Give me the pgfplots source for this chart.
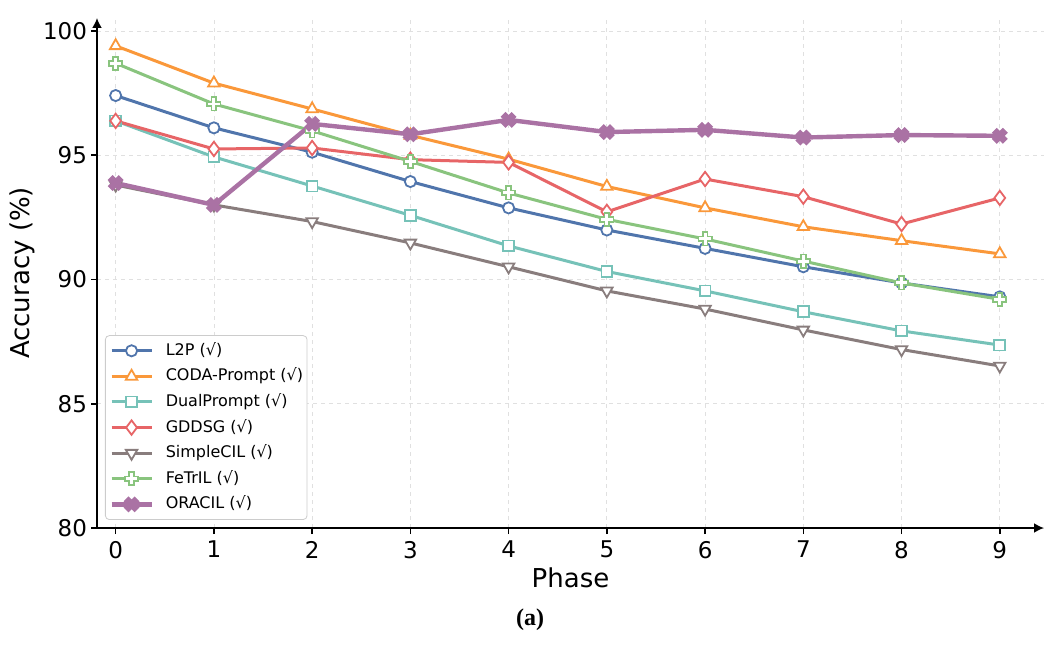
\documentclass[border=0pt]{standalone}
\usepackage{pgfplots}
\pgfplotsset{compat=1.18}
\usepackage{fontspec}
\setmainfont{DejaVu Sans}
\newfontfamily\capfont{Liberation Serif}
\usetikzlibrary{arrows.meta}

\definecolor{cL2P}{RGB}{80,117,172}
\definecolor{cCODA}{RGB}{250,152,58}
\definecolor{cDual}{RGB}{118,194,184}
\definecolor{cGDDSG}{RGB}{231,101,103}
\definecolor{cSimple}{RGB}{137,125,125}
\definecolor{cFeTrIL}{RGB}{137,196,126}
\definecolor{cORACIL}{RGB}{170,114,164}

% outlined plus marker
\pgfdeclareplotmark{hplus}{%
  \pgfpathmoveto{\pgfqpoint{-0.36\pgfplotmarksize}{\pgfplotmarksize}}%
  \pgfpathlineto{\pgfqpoint{0.36\pgfplotmarksize}{\pgfplotmarksize}}%
  \pgfpathlineto{\pgfqpoint{0.36\pgfplotmarksize}{0.36\pgfplotmarksize}}%
  \pgfpathlineto{\pgfqpoint{\pgfplotmarksize}{0.36\pgfplotmarksize}}%
  \pgfpathlineto{\pgfqpoint{\pgfplotmarksize}{-0.36\pgfplotmarksize}}%
  \pgfpathlineto{\pgfqpoint{0.36\pgfplotmarksize}{-0.36\pgfplotmarksize}}%
  \pgfpathlineto{\pgfqpoint{0.36\pgfplotmarksize}{-\pgfplotmarksize}}%
  \pgfpathlineto{\pgfqpoint{-0.36\pgfplotmarksize}{-\pgfplotmarksize}}%
  \pgfpathlineto{\pgfqpoint{-0.36\pgfplotmarksize}{-0.36\pgfplotmarksize}}%
  \pgfpathlineto{\pgfqpoint{-\pgfplotmarksize}{-0.36\pgfplotmarksize}}%
  \pgfpathlineto{\pgfqpoint{-\pgfplotmarksize}{0.36\pgfplotmarksize}}%
  \pgfpathlineto{\pgfqpoint{-0.36\pgfplotmarksize}{0.36\pgfplotmarksize}}%
  \pgfpathclose
  \pgfusepathqfillstroke}
% filled x marker
\pgfdeclareplotmark{fatx}{%
  \pgftransformrotate{45}%
  \pgfpathmoveto{\pgfqpoint{-0.4\pgfplotmarksize}{\pgfplotmarksize}}%
  \pgfpathlineto{\pgfqpoint{0.4\pgfplotmarksize}{\pgfplotmarksize}}%
  \pgfpathlineto{\pgfqpoint{0.4\pgfplotmarksize}{0.4\pgfplotmarksize}}%
  \pgfpathlineto{\pgfqpoint{\pgfplotmarksize}{0.4\pgfplotmarksize}}%
  \pgfpathlineto{\pgfqpoint{\pgfplotmarksize}{-0.4\pgfplotmarksize}}%
  \pgfpathlineto{\pgfqpoint{0.4\pgfplotmarksize}{-0.4\pgfplotmarksize}}%
  \pgfpathlineto{\pgfqpoint{0.4\pgfplotmarksize}{-\pgfplotmarksize}}%
  \pgfpathlineto{\pgfqpoint{-0.4\pgfplotmarksize}{-\pgfplotmarksize}}%
  \pgfpathlineto{\pgfqpoint{-0.4\pgfplotmarksize}{-0.4\pgfplotmarksize}}%
  \pgfpathlineto{\pgfqpoint{-\pgfplotmarksize}{-0.4\pgfplotmarksize}}%
  \pgfpathlineto{\pgfqpoint{-\pgfplotmarksize}{0.4\pgfplotmarksize}}%
  \pgfpathlineto{\pgfqpoint{-0.4\pgfplotmarksize}{0.4\pgfplotmarksize}}%
  \pgfpathclose
  \pgfusepathqfillstroke}

\begin{document}
\begin{tikzpicture}
\useasboundingbox (-48.5pt,-60pt) rectangle (482pt,264pt);
\begin{axis}[
  at={(0,0)}, anchor=south west,
  scale only axis,
  width=473.5pt, height=255pt,
  xmin=-0.19, xmax=9.45,
  ymin=80, ymax=100.52,
  xtick={0,...,9},
  ytick={80,85,90,95,100},
  axis lines=left,
  axis line style={line width=0.9pt, -{Latex[length=5pt,width=5pt]}},
  tick align=outside,
  major tick length=3pt,
  tick style={black, line width=0.8pt},
  grid=major,
  major grid style={dash pattern=on 2pt off 2pt, black!12, line width=0.4pt},
  /pgf/number format/assume math mode=true,
  tick label style={font=\fontsize{11.5}{13}\selectfont},
  yticklabel style={xshift=1.5pt},
  xlabel={Phase},
  ylabel={Accuracy (\%)},
  every axis x label/.style={at={(axis description cs:0.5,-0.098)}, anchor=center,
    font=\fontsize{13}{15}\selectfont},
  every axis y label/.style={at={(axis description cs:-0.0792,0.5)}, anchor=center, rotate=90,
    font=\fontsize{13}{15}\selectfont},
  clip=false,
  legend cell align=left,
  legend image code/.code={\draw[mark repeat=2,mark phase=2] plot coordinates {(0pt,0pt)(10pt,0pt)(20pt,0pt)};},
  legend style={at={(axis description cs:0.0084,0.0157)}, anchor=south west,
    draw=black!20, rounded corners=2pt, fill=white,
    font=\fontsize{8}{9.5}\selectfont, inner xsep=2pt, inner ysep=3.5pt, row sep=4.6pt,
    nodes={inner sep=0pt, text height=6.4pt, text depth=1.8pt},
    /tikz/column 1/.style={column sep=6pt}},
  every axis plot/.append style={line width=1.5pt},
]
\addplot[cL2P, mark=*, mark size=2.8pt, mark options={fill=white, line width=0.9pt}]
  coordinates {(0,97.4)(1,96.1)(2,95.12)(3,93.94)(4,92.88)(5,91.99)(6,91.25)(7,90.51)(8,89.86)(9,89.3)};
\addlegendentry{L2P (√)}
\addplot[cCODA, mark=triangle*, mark size=3.3pt, mark options={fill=white, line width=0.9pt}]
  coordinates {(0,99.4)(1,97.9)(2,96.86)(3,95.8)(4,94.84)(5,93.74)(6,92.88)(7,92.12)(8,91.56)(9,91.03)};
\addlegendentry{CODA-Prompt (√)}
\addplot[cDual, mark=square*, mark size=2.7pt, mark options={fill=white, line width=0.9pt}]
  coordinates {(0,96.38)(1,94.93)(2,93.76)(3,92.58)(4,91.35)(5,90.32)(6,89.54)(7,88.7)(8,87.93)(9,87.36)};
\addlegendentry{DualPrompt (√)}
\addplot[cGDDSG, mark=diamond*, mark size=3.6pt, mark options={fill=white, line width=0.9pt}]
  coordinates {(0,96.38)(1,95.25)(2,95.29)(3,94.82)(4,94.71)(5,92.72)(6,94.04)(7,93.33)(8,92.23)(9,93.28)};
\addlegendentry{GDDSG (√)}
\addplot[cSimple, mark=triangle*, mark size=3.3pt, mark options={fill=white, line width=0.9pt, rotate=180}]
  coordinates {(0,93.8)(1,93.0)(2,92.33)(3,91.47)(4,90.51)(5,89.54)(6,88.81)(7,87.97)(8,87.18)(9,86.52)};
\addlegendentry{SimpleCIL (√)}
\addplot[cFeTrIL, mark=hplus, mark size=3.3pt, mark options={fill=white, line width=0.9pt}]
  coordinates {(0,98.7)(1,97.06)(2,95.98)(3,94.75)(4,93.48)(5,92.42)(6,91.63)(7,90.74)(8,89.86)(9,89.2)};
\addlegendentry{FeTrIL (√)}
\addplot[cORACIL, line width=2.2pt, mark=fatx, mark size=3.6pt, mark options={fill=cORACIL, line width=0.6pt}]
  coordinates {(0,93.88)(1,93.0)(2,96.26)(3,95.84)(4,96.42)(5,95.93)(6,96.02)(7,95.71)(8,95.81)(9,95.78)};
\addlegendentry{ORACIL (√)}
\end{axis}
\node[font=\capfont\bfseries\fontsize{12}{14}\selectfont] at (216.5pt,-46pt) {(a)};
\end{tikzpicture}
\end{document}
